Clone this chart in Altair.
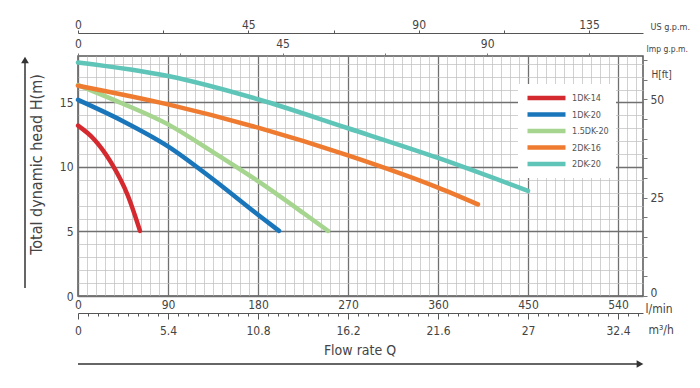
import altair as alt
import pandas as pd

# ---------------- data ----------------
series_names = ["1DK-14", "1DK-20", "1.5DK-20", "2DK-16", "2DK-20"]
series_colors = ["#d42a2f", "#1a76bb", "#a5d58e", "#ee7b30", "#5ec5b8"]

q_1dk14 = [0, 16, 33, 50, 62]
h_1dk14 = [13.2, 12.15, 10.35, 7.75, 5.05]
q_1dk20 = [0, 45, 90, 135, 180, 201]
h_1dk20 = [15.2, 13.55, 11.6, 9.05, 6.3, 5.05]
q_15dk20 = [0, 45, 90, 135, 180, 225, 250]
h_15dk20 = [16.35, 14.9, 13.3, 11.15, 8.9, 6.45, 5.05]
q_2dk16 = [0, 90, 180, 270, 360, 400]
h_2dk16 = [16.3, 14.85, 13.05, 10.9, 8.4, 7.1]
q_2dk20 = [0, 90, 180, 270, 360, 450]
h_2dk20 = [18.1, 17.05, 15.25, 13.0, 10.7, 8.15]

# axis tick values
lmin_labels = [0, 90, 180, 270, 360, 450, 540]
head_labels = [0, 5, 10, 15]
ft_labels = [0, 25, 50]
usgpm_labels = [0, 45, 90, 135]
impgpm_labels = [0, 45, 90]
m3h_labels = [0, 5.4, 10.8, 16.2, 21.6, 27, 32.4]

Q_MAX = 565.0      # l/min
H_MAX = 18.6       # m

# ---------------- tables ----------------
rows = []
for name, qs, hs in zip(series_names,
                        [q_1dk14, q_1dk20, q_15dk20, q_2dk16, q_2dk20],
                        [h_1dk14, h_1dk20, h_15dk20, h_2dk16, h_2dk20]):
    for q, h in zip(qs, hs):
        rows.append({"series": name, "q": q, "h": h})
curves_df = pd.DataFrame(rows)

grid_q = [i * 9 for i in range(int(Q_MAX // 9) + 1)]
grid_h = [i * 0.5 for i in range(int(H_MAX / 0.5) + 1)]
ft_ticks = [i * 5 for i in range(13)]
us_ticks = [i * 22.5 for i in range(7)]
imp_ticks = [i * 22.5 for i in range(6)]
m3h_ticks = [round(i * 0.6, 1) for i in range(57)]

FONT = "Liberation Sans Narrow, DejaVu Sans Condensed, Liberation Sans, Arial"
TXT = "#444444"
dummy = pd.DataFrame({"a": [0]})
MAJ = "#707070"
MIN = "#bdbdbd"

# ---------------- main curves ----------------
curves = alt.Chart(curves_df).mark_line(
    strokeWidth=4.5, interpolate="monotone", strokeCap="round"
).encode(
    x=alt.X("q:Q", scale=alt.Scale(domain=[0, Q_MAX], nice=False, zero=False),
            axis=alt.Axis(orient="bottom", values=grid_q, grid=True, ticks=False, domain=False,
                          labelExpr="datum.value % 90 === 0 ? datum.label : ''",
                          labelOverlap=False, labelFlush=False, labelBound=False,
                          labelPadding=3, labelFontSize=12, labelFont=FONT, labelColor=TXT,
                          gridColor={"condition": {"test": "datum.value % 90 === 0", "value": MAJ}, "value": MIN},
                          gridWidth={"condition": {"test": "datum.value % 90 === 0", "value": 1.3}, "value": 0.7},
                          title="l/min", titleX=567, titleY=12, titleAlign="left",
                          titleBaseline="middle", titleFont=FONT, titleFontSize=12,
                          titleFontWeight="normal", titleColor=TXT)),
    y=alt.Y("h:Q", scale=alt.Scale(domain=[0, H_MAX], nice=False, zero=True),
            axis=alt.Axis(orient="left", values=grid_h, grid=True, ticks=False, domain=False,
                          format="d",
                          labelExpr="datum.value % 5 === 0 ? datum.label : ''",
                          labelOverlap=False, labelFlush=False, labelBound=False,
                          labelPadding=5, labelFontSize=12, labelFont=FONT, labelColor=TXT,
                          gridColor={"condition": {"test": "datum.value % 2.5 === 0", "value": MAJ}, "value": MIN},
                          gridWidth={"condition": {"test": "datum.value % 2.5 === 0", "value": 1.3}, "value": 0.7},
                          title="Total dynamic head H(m)", titleX=-42, titleY=108,
                          titleAngle=270, titleAlign="center", titleBaseline="middle",
                          titleFont=FONT, titleFontSize=16, titleFontWeight="normal", titleColor=TXT)),
    color=alt.Color("series:N", sort=series_names,
                    scale=alt.Scale(domain=series_names, range=series_colors),
                    legend=alt.Legend(orient="none", legendX=440, legendY=28, title=None,
                                      symbolType="M-1,0H8.5", symbolSize=64, symbolStrokeWidth=4.5,
                                      labelOffset=34, clipHeight=14,
                                      labelFontSize=9, labelFont=FONT, labelColor="#555555",
                                      fillColor="white", padding=7, rowPadding=2.5)),
    order=alt.Order("q:Q"),
)

# ---------------- extra scales (invisible points) ----------------
ft_layer = alt.Chart(pd.DataFrame({"ft": ft_labels})).mark_point(opacity=0).encode(
    y=alt.Y("ft:Q", scale=alt.Scale(domain=[0, H_MAX * 3.28084], nice=False, zero=True),
            axis=alt.Axis(orient="right", values=ft_ticks, grid=False, domain=False,
                          tickSize=4, tickColor="#777777",
                          labelExpr="datum.value % 25 === 0 ? datum.label : ''",
                          labelBaseline={"condition": {"test": "datum.value === 0", "value": "alphabetic"}, "value": "middle"},
                          labelOverlap=False, labelFlush=False, labelBound=False,
                          labelPadding=3, labelFontSize=12, labelFont=FONT, labelColor=TXT,
                          title="H[ft]", titleAngle=0, titleX=8, titleY=18, titleAlign="left",
                          titleBaseline="middle", titleFont=FONT, titleFontSize=10,
                          titleFontWeight="normal", titleColor=TXT))
)

us_layer = alt.Chart(pd.DataFrame({"us": usgpm_labels})).mark_point(opacity=0).encode(
    x=alt.X("us:Q", scale=alt.Scale(domain=[0, Q_MAX / 3.78541], nice=False, zero=True),
            axis=alt.Axis(orient="top", offset=23, values=us_ticks, grid=False, domain=True,
                          domainColor="#555555", tickSize=3, tickColor="#555555",
                          labelExpr="datum.value % 45 === 0 ? datum.label : ''",
                          labelOverlap=False, labelFlush=False, labelBound=False,
                          labelPadding=-1, labelFontSize=12, labelFont=FONT, labelColor=TXT,
                          title="US g.p.m.", titleX=572, titleY=-7, titleAlign="left",
                          titleBaseline="middle", titleFont=FONT, titleFontSize=9,
                          titleFontWeight="normal", titleColor=TXT))
)

imp_layer = alt.Chart(pd.DataFrame({"imp": impgpm_labels})).mark_point(opacity=0).encode(
    x=alt.X("imp:Q", scale=alt.Scale(domain=[0, Q_MAX / 4.54609], nice=False, zero=True),
            axis=alt.Axis(orient="top", offset=0, values=imp_ticks, grid=False, domain=False,
                          tickSize=3, tickColor="#777777",
                          labelExpr="datum.value % 45 === 0 ? datum.label : ''",
                          labelOverlap=False, labelFlush=False, labelBound=False,
                          labelPadding=3, labelFontSize=12, labelFont=FONT, labelColor=TXT,
                          title="Imp g.p.m.", titleX=568, titleY=-8, titleAlign="left",
                          titleBaseline="middle", titleFont=FONT, titleFontSize=8.5,
                          titleFontWeight="normal", titleColor=TXT))
)

m3h_layer = alt.Chart(pd.DataFrame({"m3h": m3h_labels})).mark_point(opacity=0).encode(
    x=alt.X("m3h:Q", scale=alt.Scale(domain=[0, Q_MAX * 0.06], nice=False, zero=True),
            axis=alt.Axis(orient="bottom", offset=17, values=m3h_ticks, grid=False, domain=True,
                          domainColor="#555555", tickColor="#555555",
                          tickSize={"condition": {"test": "abs(datum.value / 5.4 - round(datum.value / 5.4)) < 0.001", "value": 6}, "value": 3},
                          format=".1~f",
                          labelExpr="abs(datum.value / 5.4 - round(datum.value / 5.4)) < 0.001 ? datum.label : ''",
                          labelOverlap=False, labelFlush=False, labelBound=False,
                          labelPadding=6, labelFontSize=12, labelFont=FONT, labelColor=TXT,
                          title="m³/h", titleX=570, titleY=16, titleAlign="left",
                          titleBaseline="middle", titleFont=FONT, titleFontSize=12,
                          titleFontWeight="normal", titleColor=TXT))
)

# ---------------- decorations ----------------
flow_text = alt.Chart(dummy).mark_text(
    text="Flow rate Q", font=FONT, fontSize=14, color=TXT, align="center", baseline="middle"
).encode(x=alt.value(282), y=alt.value(295))

h_arrow = alt.Chart(dummy).mark_rule(color="#333333", strokeWidth=1.5).encode(
    x=alt.value(0), x2=alt.value(560), y=alt.value(308))
h_head = alt.Chart(dummy).mark_point(shape="triangle-right", filled=True, size=60,
                                     color="#333333", opacity=1).encode(
    x=alt.value(562), y=alt.value(308))

v_arrow = alt.Chart(dummy).mark_rule(color="#333333", strokeWidth=1.5).encode(
    x=alt.value(-53), y=alt.value(6), y2=alt.value(232))
v_head = alt.Chart(dummy).mark_point(shape="triangle-up", filled=True, size=60,
                                     color="#333333", opacity=1).encode(
    x=alt.value(-53), y=alt.value(4))

chart = alt.layer(
    curves, ft_layer, us_layer, imp_layer, m3h_layer,
    flow_text, h_arrow, h_head, v_arrow, v_head
).resolve_scale(
    x="independent", y="independent"
).properties(
    width=565, height=240,
    autosize=alt.AutoSizeParams(type="none"),
    padding={"left": 70, "top": 48, "right": 49, "bottom": 84},
    background="white",
).configure_view(
    stroke="#555555", strokeWidth=1.5
)

chart.save("out.html", embed_options={"renderer": "svg", "actions": False})
